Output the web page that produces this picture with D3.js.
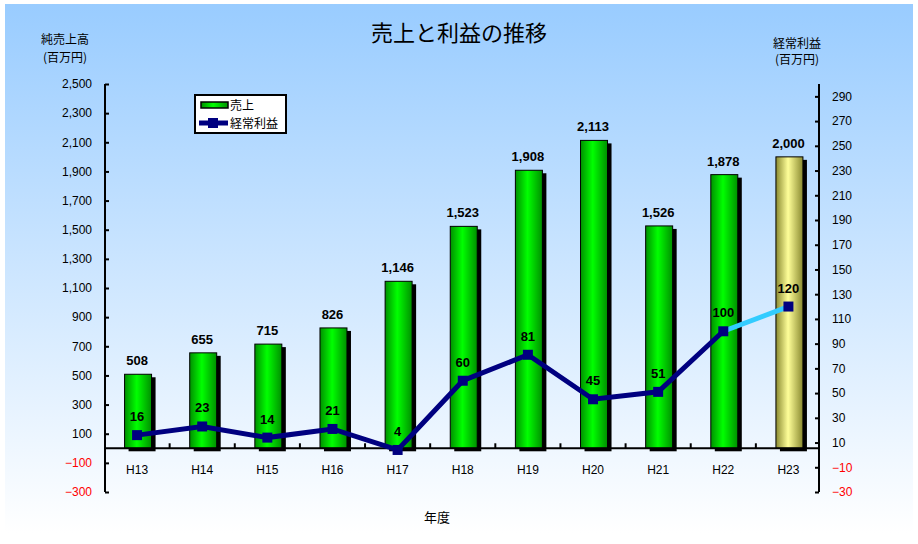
<!DOCTYPE html>
<html><head><meta charset="utf-8">
<script src="https://cdn.jsdelivr.net/npm/d3@7"></script>
<style>body{margin:0;background:#fff}svg{display:block}</style>
</head><body><svg id="c" width="918" height="544"></svg>
<script>
const categories = ["H13","H14","H15","H16","H17","H18","H19","H20","H21","H22","H23"];
const sales = [508,655,715,826,1146,1523,1908,2113,1526,1878,2000];
const profit = [16,23,14,21,4,60,81,45,51,100,120];
const leftTicks = [-300,-100,100,300,500,700,900,1100,1300,1500,1700,1900,2100,2300,2500];
const rightTicks = [-30,-10,10,30,50,70,90,110,130,150,170,190,210,230,250,270,290];

const svg = d3.select("#c");
const jp = "'Noto Sans CJK JP','Noto Sans',sans-serif";
const num = "'Liberation Sans','DejaVu Sans',sans-serif";
const defs = svg.append("defs");
const bg = defs.append("linearGradient").attr("id","bg").attr("x1",0).attr("y1",0).attr("x2",0).attr("y2",1);
bg.append("stop").attr("offset","0%").attr("stop-color","#99ccff");
bg.append("stop").attr("offset","100%").attr("stop-color","#ffffff");
function hgrad(id, edge, mid){
  const g = defs.append("linearGradient").attr("id",id).attr("x1",0).attr("y1",0).attr("x2",1).attr("y2",0);
  g.append("stop").attr("offset","0%").attr("stop-color",edge);
  g.append("stop").attr("offset","45%").attr("stop-color",mid);
  g.append("stop").attr("offset","100%").attr("stop-color",edge);
}
hgrad("gG","#009000","#00ff00");
hgrad("gY","#8a8a30","#ffff99");

svg.append("rect").attr("x",5).attr("y",4).attr("width",908).attr("height",529).attr("fill","url(#bg)");

const x0 = 105, x1 = 819, yTop = 84, yBot = 492;
const x = d3.scaleBand().domain(categories).range([104.5,821]);
const yL = d3.scaleLinear().domain([-300,2500]).range([yBot,yTop]);
const yR = d3.scaleLinear().domain([-30,300]).range([yBot,yTop]);
const bw = 27;

// title
svg.append("text").attr("x",459).attr("y",41).attr("text-anchor","middle")
  .attr("font-family",jp).attr("font-size",22).text("売上と利益の推移");
svg.append("text").attr("x",65).attr("y",44).attr("text-anchor","middle").attr("font-family",jp).attr("font-size",12).text("純売上高");
svg.append("text").attr("x",65).attr("y",62).attr("text-anchor","middle").attr("font-family",jp).attr("font-size",12).text("(百万円)");
svg.append("text").attr("x",797).attr("y",48).attr("text-anchor","middle").attr("font-family",jp).attr("font-size",12).text("経常利益");
svg.append("text").attr("x",797).attr("y",64).attr("text-anchor","middle").attr("font-family",jp).attr("font-size",12).text("(百万円)");
svg.append("text").attr("x",437).attr("y",522).attr("text-anchor","middle").attr("font-family",jp).attr("font-size",13).text("年度");

// bars
const gb = svg.append("g");
sales.forEach((v,i)=>{
  const cx = x(categories[i]) + x.bandwidth()/2 + 1;
  const bx = cx - bw/2, by = yL(v), h = yL(0)-yL(v);
  gb.append("rect").attr("x",bx+4).attr("y",by+3).attr("width",bw).attr("height",h).attr("fill","#000");
  gb.append("rect").attr("x",bx).attr("y",by).attr("width",bw).attr("height",h)
    .attr("fill", i===categories.length-1 ? "url(#gY)" : "url(#gG)").attr("stroke","#000").attr("stroke-width",1);
});

// x axis line at zero
svg.append("line").attr("x1",x0).attr("x2",x1).attr("y1",yL(0)).attr("y2",yL(0)).attr("stroke","#000").attr("stroke-width",2);
categories.slice(1).forEach(c=>{
  svg.append("line").attr("x1",x(c)).attr("x2",x(c)).attr("y1",yL(0)).attr("y2",yL(0)-5).attr("stroke","#000").attr("stroke-width",2);
});
categories.forEach(c=>{
  svg.append("text").attr("x",x(c)+x.bandwidth()/2).attr("y",474).attr("text-anchor","middle")
    .attr("font-family",num).attr("font-size",12).text(c);
});

// left axis
const gl = svg.append("g").attr("transform",`translate(${x0},0)`)
  .call(d3.axisLeft(yL).tickValues(leftTicks).tickSize(-4).tickPadding(13).tickFormat(d3.format(",")));
gl.select(".domain").attr("stroke-width",2).attr("d",`M0,${yTop}V${yBot}`);
gl.selectAll(".tick line").attr("stroke-width",2);
gl.selectAll(".tick text").attr("font-family",num).attr("font-size",12).attr("fill",d=>d<0?"#ff0000":"#000");

// right axis
const gr = svg.append("g").attr("transform",`translate(${x1},0)`)
  .call(d3.axisRight(yR).tickValues(rightTicks).tickSize(-4).tickPadding(13));
gr.select(".domain").attr("stroke-width",2).attr("d",`M0,${yTop}V${yBot}`);
gr.selectAll(".tick line").attr("stroke-width",2);
gr.selectAll(".tick text").attr("font-family",num).attr("font-size",12).attr("fill",d=>d<0?"#ff0000":"#000");

// line
const pts = profit.map((v,i)=>[x(categories[i])+x.bandwidth()/2, yR(v)]);
const n = pts.length;
svg.append("path").attr("d",d3.line()(pts.slice(0,n-1))).attr("fill","none").attr("stroke","#000080").attr("stroke-width",5);
svg.append("path").attr("d",d3.line()(pts.slice(n-2))).attr("fill","none").attr("stroke","#33ccff").attr("stroke-width",5);
pts.forEach(p=>{
  svg.append("rect").attr("x",p[0]-5).attr("y",p[1]-5).attr("width",10).attr("height",10).attr("fill","#000080");
});

// labels
sales.forEach((v,i)=>{
  svg.append("text").attr("x",x(categories[i])+x.bandwidth()/2).attr("y",yL(v)-9).attr("text-anchor","middle")
    .attr("font-family",num).attr("font-size",13).attr("font-weight","bold").text(d3.format(",")(v));
});
profit.forEach((v,i)=>{
  svg.append("text").attr("x",pts[i][0]).attr("y",pts[i][1]-14).attr("text-anchor","middle")
    .attr("font-family",num).attr("font-size",13).attr("font-weight","bold").text(v);
});

// legend
const lg = svg.append("g");
lg.append("rect").attr("x",195).attr("y",95).attr("width",91).attr("height",38).attr("fill","#fff").attr("stroke","#000").attr("stroke-width",2);
lg.append("rect").attr("x",201).attr("y",102).attr("width",27).attr("height",6).attr("fill","url(#gG)").attr("stroke","#000").attr("stroke-width",1.5);
lg.append("text").attr("x",230).attr("y",110).attr("font-family",jp).attr("font-size",12).text("売上");
lg.append("line").attr("x1",199).attr("x2",228).attr("y1",123).attr("y2",123).attr("stroke","#000080").attr("stroke-width",5);
lg.append("rect").attr("x",208).attr("y",118).attr("width",10).attr("height",10).attr("fill","#000080");
lg.append("text").attr("x",230).attr("y",128).attr("font-family",jp).attr("font-size",12).text("経常利益");
</script></body></html>
